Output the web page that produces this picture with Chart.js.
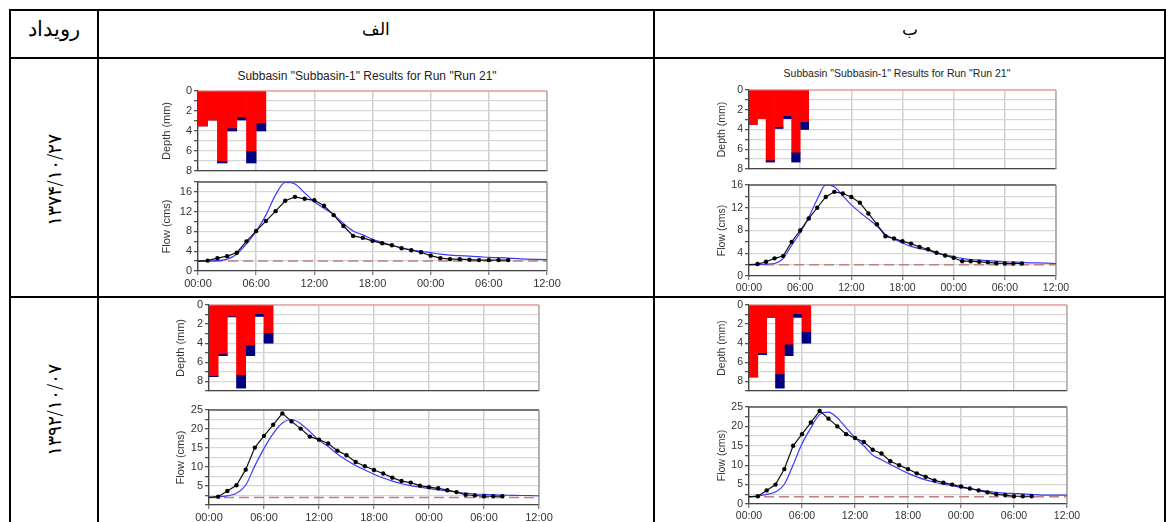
<!DOCTYPE html>
<html>
<head>
<meta charset="utf-8">
<script src="https://cdn.jsdelivr.net/npm/chart.js@4.4.1/dist/chart.umd.min.js"></script>
<style>
  body { margin: 0; width: 1166px; height: 522px; overflow: hidden; background: #fff; position: relative; font-family: "DejaVu Sans", sans-serif; }
  .ln { position: absolute; background: #000; }
  .txt { position: absolute; color: #000; text-align: center; white-space: nowrap; }
  .ttl { position: absolute; font-family: "Liberation Sans", Arial, sans-serif; color: #222; white-space: nowrap; transform: translateX(-50%); }
</style>
</head>
<body>

<div class="ln" style="left:9px;top:9px;width:1157px;height:2px"></div>
<div class="ln" style="left:9px;top:57px;width:1157px;height:2px"></div>
<div class="ln" style="left:9px;top:296px;width:1157px;height:2px"></div>
<div class="ln" style="left:9px;top:9px;width:2px;height:520px"></div>
<div class="ln" style="left:97px;top:9px;width:2px;height:520px"></div>
<div class="ln" style="left:653px;top:9px;width:2px;height:520px"></div>
<div class="ln" style="left:1164px;top:9px;width:2px;height:520px"></div>

<div class="txt" dir="rtl" style="left:11px;top:17px;width:86px;font-size:21px;font-weight:300">رویداد</div>
<div class="txt" dir="rtl" style="left:99px;top:19px;width:554px;font-size:17px;font-weight:300">الف</div>
<div class="txt" dir="rtl" style="left:655px;top:19px;width:509px;font-size:17px;font-weight:300">ب</div>
<div class="txt" style="left:54px;top:180px;font-size:19px;font-weight:300;transform:translate(-50%,-50%) rotate(-90deg)">۱۳۷۴/۱۰/۲۷</div>
<div class="txt" style="left:54px;top:410px;font-size:19px;font-weight:300;transform:translate(-50%,-50%) rotate(-90deg)">۱۳۹۲/۱۰/۰۷</div>

<div class="ttl" style="left:367px;top:69px;font-size:12px">Subbasin "Subbasin-1" Results for Run "Run 21"</div>
<div class="ttl" style="left:897px;top:67px;font-size:10.5px">Subbasin "Subbasin-1" Results for Run "Run 21"</div>

<script>
// time axis: hours from start, labels every 6 hours
const timeLabels = ['00:00', '06:00', '12:00', '18:00', '00:00', '06:00', '12:00'];
const barHours = [0.5, 1.5, 2.5, 3.5, 4.5, 5.5, 6.5];
const obsHours = [0, 1, 2, 3, 4, 5, 6, 7, 8, 9, 10, 11, 12, 13, 14, 15, 16, 17, 18, 19, 20, 21, 22, 23, 24, 25, 26, 27, 28, 29, 30, 31, 32];
const simHours = [0, 1, 2, 3, 4, 5, 6, 7, 8, 9, 10, 11, 12, 13, 14, 15, 16, 17, 18, 19, 20, 21, 22, 23, 24, 25, 26, 27, 28, 29, 30, 31, 32, 33, 34, 35, 36];

// hyetographs (mm): loss (red) and excess (blue)
const loss1 = [3.5, 2.9, 7.0, 3.7, 2.6, 6.0, 3.2];
const excess1 = [0, 0, 0.2, 0.3, 0.3, 1.2, 0.8];
const loss2 = [3.5, 2.9, 7.1, 3.7, 2.6, 6.3, 3.2];
const excess2 = [0, 0, 0.2, 0.2, 0.3, 1.0, 0.8];
const loss3 = [7.4, 5.1, 1.15, 7.3, 4.2, 0.9, 2.9];
const excess3 = [0.1, 0.2, 0.1, 1.4, 1.1, 0.3, 1.1];
const loss4 = [7.5, 5.0, 1.2, 7.2, 4.1, 0.9, 2.8];
const excess4 = [0.05, 0.2, 0.1, 1.5, 1.2, 0.4, 1.2];

// hydrographs (cms): observed (black, hourly) and simulated (blue)
const obs1 = [2.0, 2.1, 2.6, 3.0, 3.7, 6.0, 8.1, 10.1, 12.1, 14.2, 15.0, 14.6, 14.3, 13.2, 11.3, 9.1, 7.1, 6.7, 6.1, 5.6, 5.2, 4.6, 4.2, 3.8, 3.1, 2.6, 2.4, 2.4, 2.3, 2.2, 2.2, 2.2, 2.2];
const sim1 = [2.0, 2.0, 2.1, 2.4, 3.4, 5.5, 8.0, 11.3, 15.4, 17.9, 17.6, 15.8, 14.0, 12.7, 11.4, 9.6, 8.1, 7.3, 6.4, 5.8, 5.2, 4.7, 4.3, 4.0, 3.7, 3.4, 3.2, 3.1, 3.0, 2.9, 2.75, 2.7, 2.6, 2.5, 2.4, 2.35, 2.3];
const obs2 = [2.0, 2.1, 2.5, 3.1, 3.5, 6.0, 8.0, 10.1, 12.0, 13.9, 14.8, 14.5, 13.9, 12.9, 11.0, 9.1, 7.0, 6.6, 6.1, 5.7, 5.1, 4.7, 4.1, 3.6, 3.2, 2.6, 2.6, 2.5, 2.4, 2.25, 2.2, 2.2, 2.2];
const sim2 = [2.0, 2.0, 2.1, 2.2, 3.1, 5.4, 7.6, 10.3, 13.5, 16.0, 15.7, 14.1, 12.5, 11.2, 10.0, 8.8, 7.3, 6.5, 5.8, 5.2, 4.8, 4.5, 4.0, 3.7, 3.4, 3.1, 2.9, 2.8, 2.7, 2.6, 2.5, 2.45, 2.4, 2.3, 2.3, 2.25, 2.2];
const obs3 = [2.0, 2.2, 3.7, 5.2, 9.3, 15.1, 18.2, 21.1, 24.1, 22.0, 20.1, 18.0, 17.2, 16.2, 14.3, 13.1, 11.3, 10.2, 9.2, 8.3, 7.2, 6.3, 5.9, 5.1, 4.7, 4.4, 3.9, 3.4, 2.7, 2.5, 2.3, 2.3, 2.3];
const sim3 = [2.0, 2.1, 2.4, 3.1, 5.2, 10.3, 14.9, 18.8, 21.6, 22.5, 21.4, 19.3, 17.0, 15.4, 13.4, 11.8, 10.4, 9.2, 8.1, 7.1, 6.3, 5.6, 5.1, 4.7, 4.3, 4.0, 3.7, 3.4, 3.1, 2.9, 2.8, 2.7, 2.6, 2.55, 2.5, 2.5, 2.4];
const obs4 = [1.9, 2.0, 3.5, 5.0, 9.0, 15.0, 18.0, 21.0, 24.0, 22.0, 20.0, 18.0, 17.0, 16.0, 14.0, 13.0, 11.0, 10.0, 9.0, 7.9, 7.0, 6.1, 5.5, 5.0, 4.5, 4.0, 3.5, 3.0, 2.5, 2.3, 2.0, 2.0, 2.0];
const sim4 = [1.8, 2.1, 2.5, 3.1, 5.1, 10.1, 15.5, 19.6, 23.1, 23.7, 22.2, 19.6, 17.1, 15.0, 12.6, 11.4, 10.2, 9.0, 7.9, 7.0, 6.2, 5.6, 5.1, 4.7, 4.3, 3.9, 3.6, 3.3, 3.0, 2.8, 2.7, 2.6, 2.5, 2.3, 2.3, 2.3, 2.3];
const baseFlow = [2.0, 2.0, 2.0, 1.9];

// layout of each panel (page pixels of the plot areas)
const ML = 56, MT = 10, MR = 24, XB = 23;
const panels = [
  { loss: loss1, excess: excess1, obs: obs1, sim: sim1, base: baseFlow[0],
    depthBox: [198, 91, 547, 171], flowBox: [198, 182, 547, 271],
    depthMax: 8, flowMax: 18, flowStep: 2, flowLab: 4, showZero: true, gap: 31, fs: 11 },
  { loss: loss2, excess: excess2, obs: obs2, sim: sim2, base: baseFlow[1],
    depthBox: [749, 90, 1056, 169], flowBox: [749, 185, 1056, 276],
    depthMax: 8, flowMax: 16, flowStep: 2, flowLab: 4, showZero: true, gap: 27, fs: 10.5 },
  { loss: loss3, excess: excess3, obs: obs3, sim: sim3, base: baseFlow[2],
    depthBox: [209, 305, 539, 391], flowBox: [209, 410, 539, 505],
    depthMax: 9, flowMax: 25, flowStep: 2.5, flowLab: 5, showZero: false, gap: 28, fs: 11 },
  { loss: loss4, excess: excess4, obs: obs4, sim: sim4, base: baseFlow[3],
    depthBox: [749, 305, 1067, 391], flowBox: [749, 407, 1067, 504],
    depthMax: 9, flowMax: 25, flowStep: 2.5, flowLab: 5, showZero: true, gap: 27, fs: 10.5 }
];

const frame = {
  id: 'frame',
  beforeDatasetsDraw(chart, args, o) {
    const a = chart.chartArea, ctx = chart.ctx;
    ctx.save();
    ctx.lineWidth = 1.3;
    ctx.strokeStyle = o.top;
    ctx.beginPath(); ctx.moveTo(a.left, a.top); ctx.lineTo(a.right, a.top); ctx.stroke();
    ctx.strokeStyle = o.right;
    ctx.beginPath(); ctx.moveTo(a.right, a.top); ctx.lineTo(a.right, a.bottom); ctx.stroke();
    ctx.restore();
  }
};

function makeCanvas(box, bottom) {
  const c = document.createElement('canvas');
  const w = box[2] - box[0] + ML + MR, h = box[3] - box[1] + MT + bottom;
  c.width = w; c.height = h;
  c.style.cssText = 'position:absolute;left:' + (box[0] - ML) + 'px;top:' + (box[1] - MT) + 'px;width:' + w + 'px;height:' + h + 'px';
  document.body.appendChild(c);
  return c;
}

function yTitle(text, p) {
  const lh = p.fs * 1.2;
  return { display: true, text: text, color: '#333', font: { family: 'Liberation Sans', size: p.fs },
           padding: { top: ML - p.gap - lh / 2, bottom: 0 } };
}

function xAxis(p, showLabels) {
  return {
    type: 'linear', min: 0, max: 36, offset: false,
    grid: { color: '#cfcfcf', lineWidth: 1.5, offset: false, drawTicks: showLabels, tickLength: 4, tickColor: '#555', tickWidth: 1 },
    border: { color: '#444', width: 1.3 },
    ticks: { display: showLabels, stepSize: 6, autoSkip: false, maxRotation: 0, padding: 2, color: '#333',
             font: { family: 'Liberation Sans', size: p.fs },
             callback: v => timeLabels[v / 6] },
    afterFit: s => { s.height = showLabels ? XB : 0; }
  };
}

panels.forEach(p => {
  // depth (hyetograph)
  new Chart(makeCanvas(p.depthBox, 10), {
    type: 'bar',
    data: {
      datasets: [
        { data: barHours.map((h, i) => ({ x: h, y: p.loss[i] })), backgroundColor: '#ff0000' },
        { data: barHours.map((h, i) => ({ x: h, y: p.excess[i] })), backgroundColor: '#000080' }
      ]
    },
    options: {
      responsive: false, animation: false,
      layout: { padding: { left: 0, top: MT, right: MR, bottom: 10 } },
      datasets: { bar: { barPercentage: 1, categoryPercentage: 1, borderWidth: 0 } },
      plugins: { legend: { display: false }, tooltip: { enabled: false }, frame: { top: '#f2a0a0', right: '#aaa' } },
      scales: {
        x: Object.assign(xAxis(p, false), { stacked: true }),
        y: {
          reverse: true, stacked: true, min: 0, max: p.depthMax,
          grid: { color: '#d6d6d6', lineWidth: 1.3, tickLength: 4, tickColor: '#555' },
          border: { color: '#444', width: 1.3 },
          ticks: { stepSize: 1, autoSkip: false, padding: 2, color: '#333', font: { family: 'Liberation Sans', size: p.fs },
                   callback: v => (v % 2 === 0 ? v : '') },
          title: yTitle('Depth (mm)', p),
          afterFit: s => { s.width = ML; }
        }
      }
    },
    plugins: [frame]
  });

  // flow (hydrograph)
  new Chart(makeCanvas(p.flowBox, XB), {
    type: 'line',
    data: {
      datasets: [
        { data: obsHours.map((h, i) => ({ x: h, y: p.obs[i] })), borderColor: '#111', borderWidth: 1.2,
          pointRadius: c => (c.dataIndex === 0 ? 0 : 2.2), pointBackgroundColor: '#000', pointBorderWidth: 0, tension: 0 },
        { data: simHours.map((h, i) => ({ x: h, y: p.sim[i] })), borderColor: '#3a3aff', borderWidth: 1.2,
          pointRadius: 0, cubicInterpolationMode: 'monotone' },
        { data: [{ x: 0, y: p.base }, { x: 36, y: p.base }], borderColor: '#bf8080', borderWidth: 1.5,
          borderDash: [10, 5], pointRadius: 0 }
      ]
    },
    options: {
      responsive: false, animation: false,
      layout: { padding: { left: 0, top: MT, right: MR, bottom: 0 } },
      plugins: { legend: { display: false }, tooltip: { enabled: false }, frame: { top: '#555', right: '#999' } },
      scales: {
        x: xAxis(p, true),
        y: {
          min: 0, max: p.flowMax,
          grid: { color: '#d6d6d6', lineWidth: 1.3, tickLength: 4, tickColor: '#555' },
          border: { color: '#444', width: 1.3 },
          ticks: { stepSize: p.flowStep, autoSkip: false, padding: 2, color: '#333', font: { family: 'Liberation Sans', size: p.fs },
                   callback: v => ((v % p.flowLab === 0 && (v !== 0 || p.showZero)) ? v : '') },
          title: yTitle('Flow (cms)', p),
          afterFit: s => { s.width = ML; }
        }
      }
    },
    plugins: [frame]
  });
});
</script>
</body>
</html>
